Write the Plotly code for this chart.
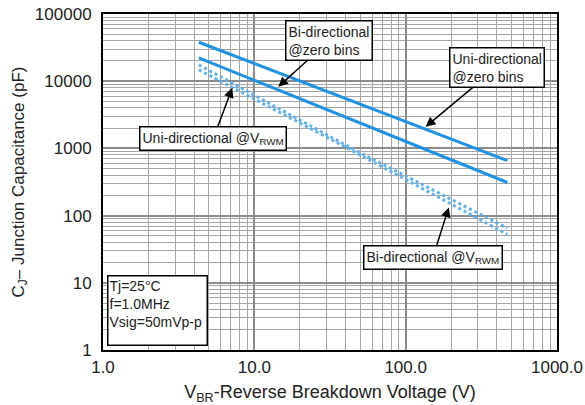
import plotly.graph_objects as go

# Data
v_br = [4.3, 470.0]
uni_zero_bias = [38000, 660]
bi_zero_bias = [22200, 311]
v_br_rwm = [4.3, 43.0, 470.0]
uni_vrwm = [17500, 1030, 65]
bi_vrwm = [14800, 960, 52.5]

x_tick_vals = [1, 10, 100, 1000]
x_tick_text = ["1.0", "10.0", "100.0", "1000.0"]
y_tick_vals = [1, 10, 100, 1000, 10000, 100000]
y_tick_text = ["1", "10", "100", "1000", "10000", "100000"]

SOLID = "rgb(32,146,228)"
DOTTED = "rgb(95,178,236)"
FONT = "Liberation Sans, Arial, sans-serif"

fig = go.Figure()
fig.add_trace(go.Scatter(x=v_br, y=uni_zero_bias, mode="lines",
                         line=dict(color=SOLID, width=3), name="Uni-directional @zero bins"))
fig.add_trace(go.Scatter(x=v_br, y=bi_zero_bias, mode="lines",
                         line=dict(color=SOLID, width=3), name="Bi-directional @zero bins"))
fig.add_trace(go.Scatter(x=v_br_rwm, y=uni_vrwm, mode="lines",
                         line=dict(color=DOTTED, width=3, dash="dot"), name="Uni-directional @VRWM"))
fig.add_trace(go.Scatter(x=v_br_rwm, y=bi_vrwm, mode="lines",
                         line=dict(color=DOTTED, width=3, dash="dot"), name="Bi-directional @VRWM"))

ann_font = dict(family=FONT, size=14, color="#222")
box = dict(bordercolor="black", borderwidth=1.5, bgcolor="white", borderpad=2,
           arrowhead=2, arrowsize=1.3, arrowwidth=1.5, arrowcolor="black",
           font=ann_font, align="left")

fig.add_annotation(x=1.158, y=3.917, xref="x", yref="y", ax=51, ay=-46,
                   text="Bi-directional<br>@zero bins", **box)
fig.add_annotation(x=2.132, y=3.323, xref="x", yref="y", ax=71, ay=-59,
                   text="Uni-directional<br>@zero bins", **box)
fig.add_annotation(x=0.854, y=3.902, xref="x", yref="y", ax=-19, ay=51,
                   text="Uni-directional @V<sub>RWM</sub>", **box)
fig.add_annotation(x=2.285, y=2.122, xref="x", yref="y", ax=-16, ay=50,
                   text="Bi-directional @V<sub>RWM</sub>", **box)

fig.add_annotation(x=0.009, y=0.012, xref="paper", yref="paper",
                   xanchor="left", yanchor="bottom", showarrow=False,
                   text="Tj=25°C<br>f=1.0MHz<br>Vsig=50mVp-p",
                   align="left", valign="top", width=96, height=66,
                   bordercolor="black", borderwidth=1.5, bgcolor="white", borderpad=1,
                   font=dict(family=FONT, size=14, color="#222"))

axis_common = dict(
    type="log", automargin=False, ticklabeloverflow="allow",
    showline=True, mirror=True, linecolor="black", linewidth=2,
    showgrid=True, gridcolor="#8c8c8c", gridwidth=1.6,
    zeroline=False, ticks="",
    tickfont=dict(family=FONT, size=17, color="#222"),
    minor=dict(showgrid=True, gridcolor="#a6a6a6", gridwidth=1, dtick="D1"),
)

fig.update_xaxes(range=[0, 3], tickvals=x_tick_vals, ticktext=x_tick_text,
                 ticklabelstandoff=1,
                 title=dict(text="V<sub>BR</sub>-Reverse Breakdown Voltage (V)",
                            font=dict(family=FONT, size=18, color="#222"), standoff=17),
                 **axis_common)
fig.update_yaxes(range=[0, 5], tickvals=y_tick_vals, ticktext=y_tick_text,
                 ticklabelstandoff=6,
                 title=dict(text="C<sub>J</sub>– Junction Capacitance (pF)",
                            font=dict(family=FONT, size=17, color="#222"), standoff=6),
                 **axis_common)

fig.update_layout(width=585, height=405, showlegend=False,
                  margin=dict(l=103, r=28, t=14, b=55),
                  plot_bgcolor="white", paper_bgcolor="white",
                  font=dict(family=FONT))

# remove the page body's default 8px margin so the figure fills the window
fig.write_html("out.html", config={"displayModeBar": False},
               post_script="document.body.style.margin='0px';")
